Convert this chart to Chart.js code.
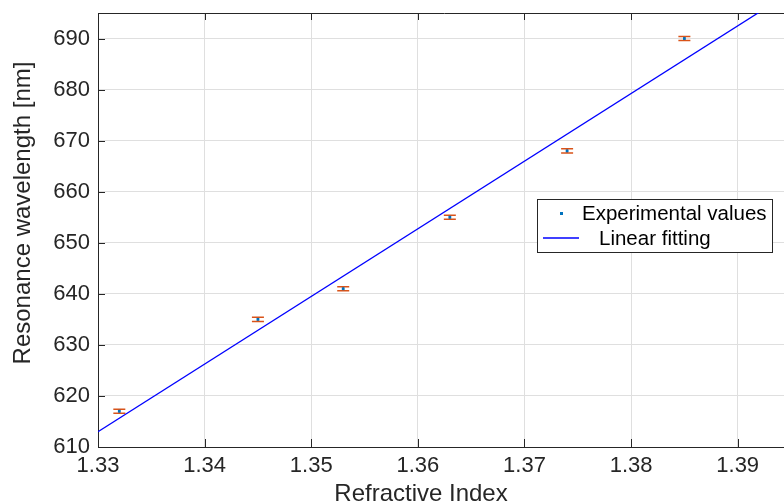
<!DOCTYPE html>
<html>
<head>
<meta charset="utf-8">
<script src="https://cdn.jsdelivr.net/npm/chart.js@4"></script>
<style>
  html, body { margin: 0; padding: 0; overflow: hidden; background: #fff; }
</style>
</head>
<body>
<canvas id="myChart" width="800" height="504"></canvas>
<script>
// data
const refIndex = [1.332, 1.345, 1.353, 1.363, 1.374, 1.385];
const wavelength = [617, 635, 641, 655, 668, 690];
const wavelengthErr = [0.4, 0.4, 0.4, 0.4, 0.4, 0.4];
const fitX = [1.33, 1.395];
const fitY = [613.0, 699.1];
const xTicks = [1.33, 1.34, 1.35, 1.36, 1.37, 1.38, 1.39];
const yTicks = [610, 620, 630, 640, 650, 660, 670, 680, 690];

const FONT = "Arial, 'Liberation Sans', Helvetica, sans-serif";
const AXIS = "#262626";

const points = refIndex.map((x, i) => ({ x, y: wavelength[i] }));
const fitLine = fitX.map((x, i) => ({ x, y: fitY[i] }));

//Error bars + box ticks
const errorBars = {
  id: "errorBars",
  beforeDatasetsDraw(chart) {
    const { ctx, chartArea: { left, right, top, bottom }, scales: { x, y } } = chart;
    ctx.save();
    // top border and inward tick marks
    ctx.strokeStyle = AXIS;
    ctx.lineWidth = 1;
    ctx.beginPath();
    ctx.moveTo(left, top + 0.5);
    ctx.lineTo(right, top + 0.5);
    xTicks.forEach((t) => {
      const px = Math.round(x.getPixelForValue(t)) + 0.5;
      ctx.moveTo(px, bottom);
      ctx.lineTo(px, bottom - 8);
      ctx.moveTo(px, top);
      ctx.lineTo(px, top + 7);
    });
    yTicks.forEach((t) => {
      const py = Math.round(y.getPixelForValue(t)) + 0.5;
      ctx.moveTo(left, py);
      ctx.lineTo(left + 7, py);
    });
    ctx.stroke();

    // error bars
    ctx.strokeStyle = "#D95319";
    ctx.lineWidth = 1.5;
    ctx.beginPath();
    refIndex.forEach((xv, i) => {
      const px = x.getPixelForValue(xv);
      const y1 = y.getPixelForValue(wavelength[i] + wavelengthErr[i]);
      const y2 = y.getPixelForValue(wavelength[i] - wavelengthErr[i]);
      ctx.moveTo(px, y1);
      ctx.lineTo(px, y2);
      ctx.moveTo(px - 6, y1);
      ctx.lineTo(px + 6, y1);
      ctx.moveTo(px - 6, y2);
      ctx.lineTo(px + 6, y2);
    });
    ctx.stroke();
    ctx.restore();
  },
};

//Titles and legend
const labels = {
  id: "labels",
  afterDraw(chart) {
    const { ctx } = chart;
    ctx.save();
    ctx.fillStyle = AXIS;
    ctx.font = "24px " + FONT;
    ctx.textAlign = "center";
    ctx.textBaseline = "alphabetic";
    ctx.fillText("Refractive Index", 421, 501);

    ctx.translate(30, 213);
    ctx.rotate(-Math.PI / 2);
    ctx.fillText("Resonance wavelength [nm]", 0, 0);
    ctx.setTransform(1, 0, 0, 1, 0, 0);

    // legend box
    ctx.fillStyle = "#ffffff";
    ctx.fillRect(537, 199, 235, 53);
    ctx.strokeStyle = AXIS;
    ctx.lineWidth = 1;
    ctx.strokeRect(537.5, 199.5, 235, 53);

    ctx.fillStyle = "#0072BD";
    ctx.fillRect(560, 212, 3, 3);
    ctx.strokeStyle = "#0000FF";
    ctx.lineWidth = 1.5;
    ctx.beginPath();
    ctx.moveTo(543, 238);
    ctx.lineTo(579, 238);
    ctx.stroke();

    ctx.fillStyle = "#000000";
    ctx.font = "20.5px " + FONT;
    ctx.textAlign = "left";
    ctx.textBaseline = "middle";
    ctx.fillText("Experimental values", 582, 214);
    ctx.fillText("Linear fitting", 599, 239);
    ctx.restore();
  },
};

const config = {
  type: "scatter",
  data: {
    datasets: [
      {
        label: "Experimental values",
        data: points,
        showLine: false,
        pointStyle: "rect",
        pointRadius: 2,
        backgroundColor: "#0072BD",
        borderColor: "#0072BD",
        borderWidth: 0,
      },
      {
        label: "Linear fitting",
        data: fitLine,
        showLine: true,
        pointRadius: 0,
        borderColor: "#0000FF",
        borderWidth: 1.3,
        fill: false,
      },
    ],
  },
  options: {
    responsive: false,
    animation: false,
    devicePixelRatio: 1,
    layout: { padding: { top: 13, right: 9, left: 0, bottom: 0 } },
    plugins: {
      legend: { display: false },
      tooltip: { enabled: false },
    },
    scales: {
      x: {
        type: "linear",
        min: 1.33,
        max: 1.395,
        afterFit(scale) {
          scale.height = 57;
          scale.paddingLeft = 0;
          scale.paddingRight = 0;
        },
        afterBuildTicks(scale) {
          scale.ticks = xTicks.map((v) => ({ value: v }));
        },
        ticks: {
          includeBounds: false,
          autoSkip: false,
          maxRotation: 0,
          padding: 6,
          color: AXIS,
          font: { family: FONT, size: 22 },
          callback: (v) => v.toFixed(2),
        },
        grid: { color: "#dfdfdf", drawTicks: false },
        border: { color: AXIS, width: 1 },
      },
      y: {
        min: 610,
        max: 695,
        afterFit(scale) {
          scale.width = 98;
          scale.paddingTop = 0;
          scale.paddingBottom = 0;
        },
        afterBuildTicks(scale) {
          scale.ticks = yTicks.map((v) => ({ value: v }));
        },
        ticks: {
          includeBounds: false,
          autoSkip: false,
          padding: 8,
          color: AXIS,
          font: { family: FONT, size: 22 },
        },
        grid: { color: "#dfdfdf", drawTicks: false },
        border: { color: AXIS, width: 1 },
      },
    },
  },
  plugins: [errorBars, labels],
};

const myChart = new Chart(document.getElementById("myChart"), config);
</script>
</body>
</html>
